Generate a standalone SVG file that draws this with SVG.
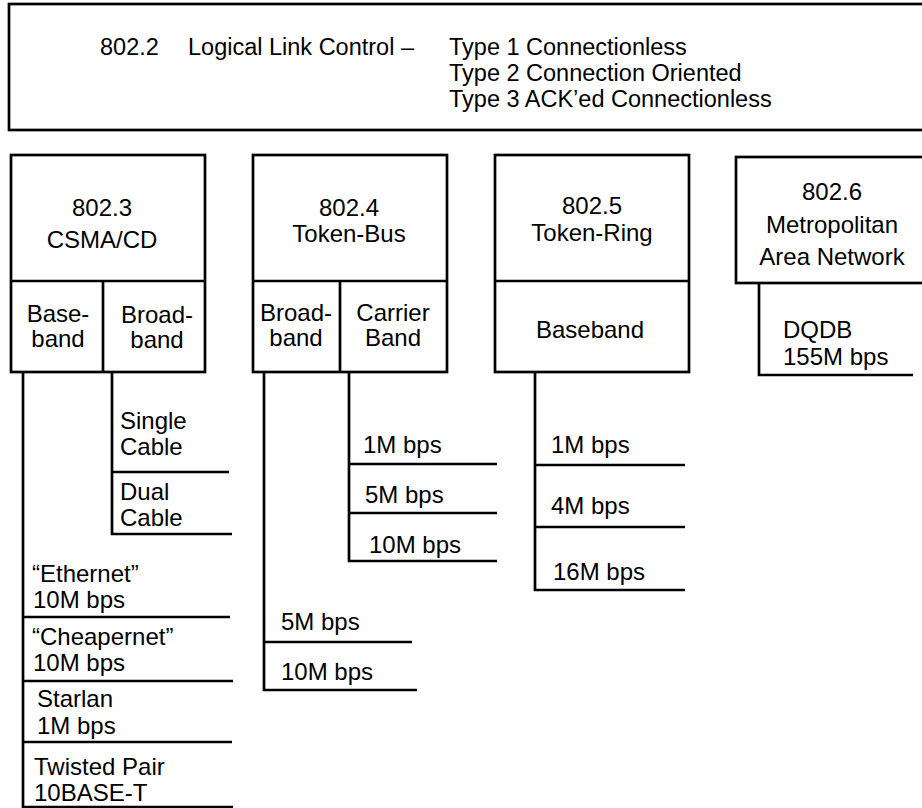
<svg xmlns="http://www.w3.org/2000/svg" width="922" height="808" viewBox="0 0 922 808">
<style>
.b{fill:none;stroke:#000;stroke-width:2.7}
.l{fill:none;stroke:#000;stroke-width:2.7}
text{font-family:"Liberation Sans",Arial,sans-serif;font-size:24px;fill:#000}
.t{font-size:23.5px}
.c{text-anchor:middle}
</style>
<rect width="922" height="808" fill="#fff"/>
<g id="llc">
<rect class="b" x="9" y="4" width="930" height="126"/>
<text class="t" x="100" y="55">802.2</text>
<text class="t" x="188" y="55">Logical Link Control –</text>
<text class="t" x="449" y="55">Type 1 Connectionless</text>
<text class="t" x="449" y="81">Type 2 Connection Oriented</text>
<text class="t" x="449" y="107">Type 3 ACK’ed Connectionless</text>
</g>
<g id="n8023">
<rect class="b" x="11" y="155" width="194" height="217"/>
<line class="b" x1="11" y1="281" x2="205" y2="281"/>
<line class="b" x1="103" y1="281" x2="103" y2="372"/>
<text class="c" x="102" y="216">802.3</text>
<text class="c" x="102" y="248">CSMA/CD</text>
<text class="c" x="58" y="322">Base-</text>
<text class="c" x="58" y="347">band</text>
<text class="c" x="157" y="323">Broad-</text>
<text class="c" x="157" y="348">band</text>
</g>
<g id="n8024">
<rect class="b" x="253" y="155" width="194" height="217"/>
<line class="b" x1="253" y1="281" x2="447" y2="281"/>
<line class="b" x1="340" y1="281" x2="340" y2="372"/>
<text class="c" x="349" y="216">802.4</text>
<text class="c" x="349" y="242">Token-Bus</text>
<text class="c" x="296" y="321">Broad-</text>
<text class="c" x="296" y="346">band</text>
<text class="c" x="393" y="321">Carrier</text>
<text class="c" x="393" y="346">Band</text>
</g>
<g id="n8025">
<rect class="b" x="495" y="155" width="194" height="217"/>
<line class="b" x1="495" y1="281" x2="689" y2="281"/>
<text class="c" x="592" y="214">802.5</text>
<text class="c" x="592" y="241">Token-Ring</text>
<text class="c" x="590" y="338">Baseband</text>
</g>
<g id="n8026">
<rect class="b" x="736" y="157" width="200" height="126"/>
<text class="c" x="832" y="200">802.6</text>
<text class="c" x="832" y="233">Metropolitan</text>
<text class="c" x="832" y="265">Area Network</text>
</g>
<g id="connectors">
<path class="l" d="M23 372V808M23 617H230M23 681H233M23 742H232M23 807H233"/>
<path class="l" d="M112 372V534H232M112 472H229"/>
<path class="l" d="M264 372V690H417M264 642H412"/>
<path class="l" d="M349 372V561H497M349 464H497M349 513H497"/>
<path class="l" d="M535 372V590H685M535 465H685M535 527H685"/>
<path class="l" d="M759 283V375H913"/>
</g>
<g id="leaves">
<text x="120" y="429">Single</text>
<text x="120" y="455">Cable</text>
<text x="120" y="500">Dual</text>
<text x="120" y="526">Cable</text>
<text x="32" y="582">“Ethernet”</text>
<text x="33" y="608">10M bps</text>
<text x="32" y="645">“Cheapernet”</text>
<text x="33" y="671">10M bps</text>
<text x="37" y="707">Starlan</text>
<text x="37" y="734">1M bps</text>
<text x="34" y="775">Twisted Pair</text>
<text x="34" y="801">10BASE-T</text>
<text x="281" y="630">5M bps</text>
<text x="281" y="680">10M bps</text>
<text x="363" y="453">1M bps</text>
<text x="365" y="503">5M bps</text>
<text x="369" y="553">10M bps</text>
<text x="551" y="453">1M bps</text>
<text x="551" y="514">4M bps</text>
<text x="553" y="580">16M bps</text>
<text x="783" y="338">DQDB</text>
<text x="783" y="365">155M bps</text>
</g>
</svg>
